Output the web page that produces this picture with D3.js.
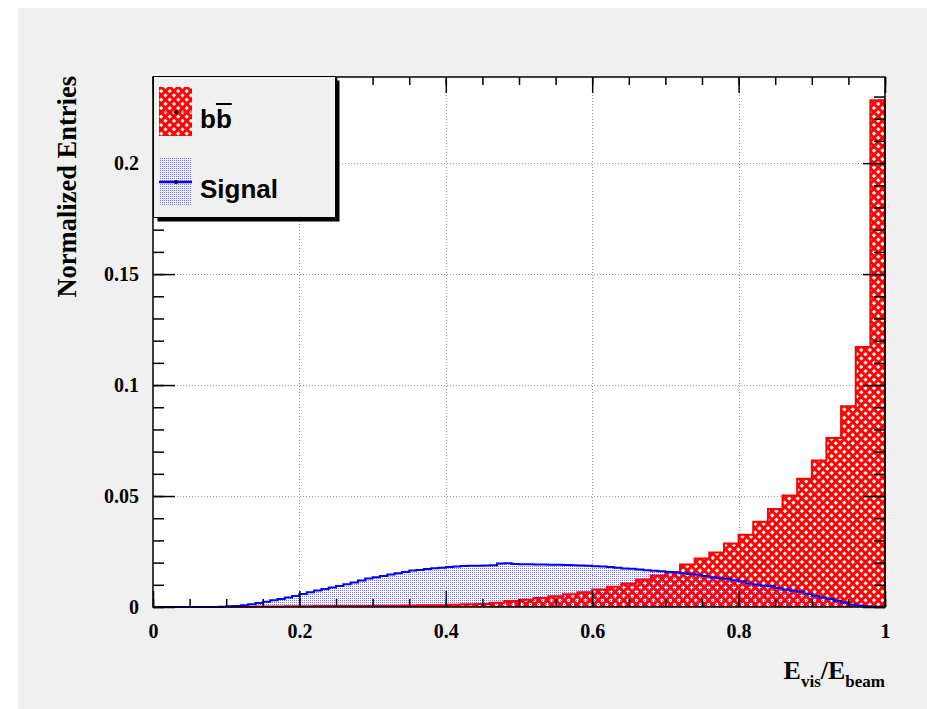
<!DOCTYPE html>
<html>
<head>
<meta charset="utf-8">
<script src="https://cdn.jsdelivr.net/npm/d3@7"></script>
<style>
  body { margin: 0; background: #fff; }
  svg { display: block; }
</style>
</head>
<body>
<svg id="chart" width="927" height="709"></svg>
<script>
// bb background, 50 bins of 0.02
var bbValues = [
  0, 0, 0, 0, 0,
  0.0001, 0.0001, 0.0002, 0.0002, 0.0003,
  0.0003, 0.0004, 0.0004, 0.0005, 0.0005,
  0.0006, 0.0006, 0.0007, 0.0008, 0.0008,
  0.0010, 0.0012, 0.0014, 0.0019, 0.0027,
  0.0033, 0.0040, 0.0048, 0.0058, 0.0066,
  0.0079, 0.0091, 0.0106, 0.0124, 0.0142,
  0.0158, 0.0191, 0.0218, 0.0246, 0.0286,
  0.0325, 0.0384, 0.0441, 0.0502, 0.0578,
  0.0660, 0.0762, 0.0905, 0.1171, 0.2283
];
// signal, 100 bins of 0.01
var signalValues = [
  0, 0, 0, 0, 0, 0, 0, 0, 0, 0.0001,
  0.0003, 0.0005, 0.0008, 0.0012, 0.0018, 0.0024, 0.0030, 0.0036, 0.0043, 0.0050,
  0.0059, 0.0067, 0.0074, 0.0081, 0.0088, 0.0095, 0.0102, 0.0110, 0.0119, 0.0128,
  0.0134, 0.0140, 0.0146, 0.0152, 0.0158, 0.0164, 0.0167, 0.0171, 0.0175, 0.0177,
  0.0180, 0.0183, 0.0185, 0.0186, 0.0186, 0.0187, 0.0188, 0.0196, 0.0197, 0.0194,
  0.0193, 0.0193, 0.0192, 0.0191, 0.0190, 0.0190, 0.0189, 0.0188, 0.0187, 0.0186,
  0.0184, 0.0182, 0.0180, 0.0177, 0.0174, 0.0172, 0.0169, 0.0166, 0.0163, 0.0161,
  0.0158, 0.0155, 0.0152, 0.0149, 0.0145, 0.0140, 0.0134, 0.0130, 0.0127, 0.0120,
  0.0116, 0.0106, 0.0101, 0.0096, 0.0093, 0.0086, 0.0079, 0.0073, 0.0069, 0.0060,
  0.0051, 0.0043, 0.0036, 0.0028, 0.0019, 0.0010, 0.0007, 0.0003, 0.0001, 0.0001
];
var xTicks = [0, 0.2, 0.4, 0.6, 0.8, 1];
var yTicks = [0, 0.05, 0.1, 0.15, 0.2];
var legendLabels = ["b", "Signal"];

var svg = d3.select("#chart");
var pLeft = 153, pRight = 885, pTop = 77, pBottom = 607;

var x = d3.scaleLinear().domain([0, 1]).range([pLeft, pRight]);
var y = d3.scaleLinear().domain([0, 0.2388]).range([pBottom, pTop]);

svg.append("rect").attr("width", 927).attr("height", 709).attr("fill", "#fff");
svg.append("rect").attr("x", 18).attr("y", 8).attr("width", 909).attr("height", 701).attr("fill", "#f0f0f0");

var defs = svg.append("defs");
var hatch = defs.append("pattern")
    .attr("id", "hatchRed")
    .attr("patternUnits", "userSpaceOnUse")
    .attr("width", 6).attr("height", 6)
    .attr("patternTransform", "rotate(45)");
hatch.append("rect").attr("width", 6).attr("height", 2.9).attr("fill", "#ff0000");
hatch.append("rect").attr("width", 2.9).attr("height", 6).attr("fill", "#ff0000");

var dots = defs.append("pattern")
    .attr("id", "dotsBlue")
    .attr("patternUnits", "userSpaceOnUse")
    .attr("width", 2).attr("height", 2);
dots.append("rect").attr("width", 1).attr("height", 1).attr("fill", "#7a7aff");

// plot frame
svg.append("rect")
    .attr("x", pLeft).attr("y", pTop)
    .attr("width", pRight - pLeft).attr("height", pBottom - pTop)
    .attr("fill", "#fff");

// grid
var grid = svg.append("g").attr("stroke", "#999").attr("stroke-width", 1).attr("stroke-dasharray", "1,2");
xTicks.slice(1, -1).forEach(function(t) {
  grid.append("line").attr("x1", Math.round(x(t)) + 0.5).attr("x2", Math.round(x(t)) + 0.5).attr("y1", pTop).attr("y2", pBottom);
});
yTicks.slice(1).forEach(function(t) {
  grid.append("line").attr("x1", pLeft).attr("x2", pRight).attr("y1", Math.round(y(t)) + 0.5).attr("y2", Math.round(y(t)) + 0.5);
});

function histPoints(values, width) {
  var pts = values.map(function(v, i) { return [i * width, v]; });
  pts.push([1, values[values.length - 1]]);
  return pts;
}

var area = d3.area()
    .curve(d3.curveStepAfter)
    .x(function(d) { return x(d[0]); })
    .y0(y(0))
    .y1(function(d) { return y(d[1]); });
var line = d3.line()
    .curve(d3.curveStepAfter)
    .x(function(d) { return x(d[0]); })
    .y(function(d) { return y(d[1]); });

function histFill(values, width, fill) {
  svg.append("path").datum(histPoints(values, width)).attr("d", area).attr("fill", fill);
}
function histLine(values, width, stroke) {
  var outline = [[0, 0]].concat(histPoints(values, width)).concat([[1, 0]]);
  svg.append("path").datum(outline).attr("d", line)
      .attr("fill", "none").attr("stroke", stroke).attr("stroke-width", 2);
}

histFill(signalValues, 0.01, "url(#dotsBlue)");
histFill(bbValues, 0.02, "url(#hatchRed)");
histLine(bbValues, 0.02, "#ff0000");
histLine(signalValues, 0.01, "#0000ff");

// axes, ticks inward on all sides
var xMinor = d3.range(0, 1.0001, 0.05);
var yMinor = d3.range(0, 0.235, 0.01);

function styleAxis(g) {
  g.selectAll(".domain").remove();
  g.selectAll("line").attr("stroke", "#000").attr("stroke-width", 1.5);
}

svg.append("g").attr("transform", "translate(0," + pBottom + ")")
    .call(d3.axisBottom(x).tickValues(xMinor).tickSize(-8).tickFormat(""))
    .call(styleAxis);
svg.append("g").attr("transform", "translate(0," + pTop + ")")
    .call(d3.axisTop(x).tickValues(xMinor).tickSize(-8).tickFormat(""))
    .call(styleAxis);
svg.append("g").attr("transform", "translate(0," + pTop + ")")
    .call(d3.axisTop(x).tickValues(xTicks).tickSize(-16).tickFormat(""))
    .call(styleAxis);
svg.append("g").attr("transform", "translate(" + pLeft + ",0)")
    .call(d3.axisLeft(y).tickValues(yMinor).tickSize(-11).tickFormat(""))
    .call(styleAxis);
svg.append("g").attr("transform", "translate(" + pRight + ",0)")
    .call(d3.axisRight(y).tickValues(yMinor).tickSize(-11).tickFormat(""))
    .call(styleAxis);
svg.append("g").attr("transform", "translate(" + pRight + ",0)")
    .call(d3.axisRight(y).tickValues(yTicks).tickSize(-22).tickFormat(""))
    .call(styleAxis);

var xAxis = svg.append("g").attr("transform", "translate(0," + pBottom + ")")
    .call(d3.axisBottom(x).tickValues(xTicks).tickSize(-16).tickPadding(17).tickFormat(function(d) { return String(d); }))
    .call(styleAxis);
var yAxis = svg.append("g").attr("transform", "translate(" + pLeft + ",0)")
    .call(d3.axisLeft(y).tickValues(yTicks).tickSize(-22).tickPadding(14).tickFormat(function(d) { return String(d); }))
    .call(styleAxis);
[xAxis, yAxis].forEach(function(g) {
  g.attr("font-family", null).attr("font-size", null);
  g.selectAll("text")
      .attr("font-family", "'Liberation Serif', 'Times New Roman', serif")
      .attr("font-weight", "bold")
      .attr("font-size", 20)
      .attr("fill", "#000");
});

svg.append("rect")
    .attr("x", pLeft).attr("y", pTop)
    .attr("width", pRight - pLeft).attr("height", pBottom - pTop)
    .attr("fill", "none").attr("stroke", "#000").attr("stroke-width", 1.5);

// axis titles
svg.append("text")
    .attr("transform", "translate(76," + (pTop - 1) + ") rotate(-90)")
    .attr("text-anchor", "end")
    .attr("font-family", "'Liberation Serif', 'Times New Roman', serif")
    .attr("font-weight", "bold")
    .attr("font-size", 26.5)
    .text("Normalized Entries");

var xt = svg.append("text")
    .attr("x", pRight).attr("y", 679)
    .attr("text-anchor", "end")
    .attr("font-family", "'Liberation Serif', 'Times New Roman', serif")
    .attr("font-weight", "bold")
    .attr("font-size", 26);
xt.append("tspan").text("E");
xt.append("tspan").attr("font-size", 17).attr("dy", 8).text("vis");
xt.append("tspan").attr("dy", -8).text("/E");
xt.append("tspan").attr("font-size", 17).attr("dy", 8).text("beam");

// legend
var lg = svg.append("g");
lg.append("rect").attr("x", 157.5).attr("y", 80.5).attr("width", 182).attr("height", 141).attr("fill", "#000");
lg.append("rect").attr("x", 153.5).attr("y", 76.5).attr("width", 182).attr("height", 141)
    .attr("fill", "#f0f0f0").attr("stroke", "#000").attr("stroke-width", 1);

var entries = [
  { label: legendLabels[0], fill: "url(#hatchRed)", stroke: "#ff0000", y0: 87, sw: 1.2, ty: 128 },
  { label: legendLabels[1], fill: "url(#dotsBlue)", stroke: "#0000ff", y0: 157, sw: 2.5, ty: 198 }
];
entries.forEach(function(e) {
  lg.append("rect").attr("x", 159).attr("y", e.y0).attr("width", 33).attr("height", 49).attr("fill", e.fill);
  lg.append("line").attr("x1", 159).attr("x2", 192).attr("y1", e.y0 + 25).attr("y2", e.y0 + 25)
      .attr("stroke", e.stroke).attr("stroke-width", e.sw);
  lg.append("circle").attr("cx", 176).attr("cy", e.y0 + 25).attr("r", 2).attr("fill", "#000");
});

var bbText = lg.append("text")
    .attr("x", 200).attr("y", entries[0].ty)
    .attr("font-family", "'Liberation Sans', Arial, sans-serif")
    .attr("font-weight", "bold")
    .attr("font-size", 26);
bbText.append("tspan").text(legendLabels[0]);
bbText.append("tspan").text(legendLabels[0]);
var bNode = bbText.node();
var bStart = bNode.getStartPositionOfChar(1).x;
var bEnd = bStart + bNode.getSubStringLength(1, 1);
lg.append("line").attr("x1", bStart).attr("x2", bEnd).attr("y1", 104).attr("y2", 104)
    .attr("stroke", "#000").attr("stroke-width", 2);

lg.append("text")
    .attr("x", 200).attr("y", entries[1].ty)
    .attr("font-family", "'Liberation Sans', Arial, sans-serif")
    .attr("font-weight", "bold")
    .attr("font-size", 26)
    .text(legendLabels[1]);
</script>
</body>
</html>
